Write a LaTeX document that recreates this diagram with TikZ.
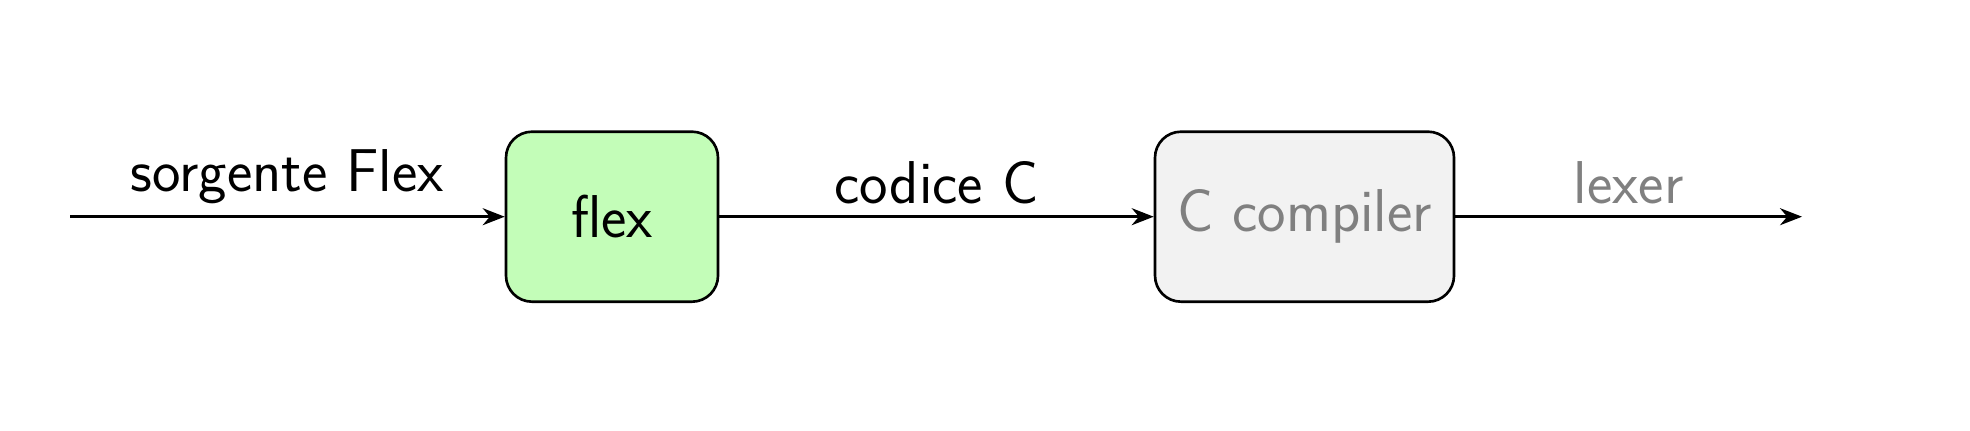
\documentclass[tikz,border=0pt]{standalone}
\usetikzlibrary{arrows.meta}
\definecolor{flexgreen}{HTML}{C3FDB8}
\definecolor{boxgray}{HTML}{F2F2F2}
\definecolor{txtgray}{HTML}{808080}
\begin{document}
\begin{tikzpicture}[
  font=\sffamily\fontsize{17.2}{20.6}\selectfont,
  stagebox/.style={draw=black, line width=0.75pt, rounded corners=0.26cm, minimum height=1.70cm, inner sep=0pt},
  flow/.style={line width=0.75pt, -{Stealth[length=0.22cm, width=0.17cm]}},
  lbl/.style={midway, above}
]
\useasboundingbox (0,0) rectangle (19.70,4.30);
\coordinate (in) at (0.70,2.133);
\node[stagebox, fill=flexgreen, minimum width=2.12cm] (flex) at (6.12,2.133) {flex};
\node[stagebox, fill=boxgray, minimum width=2.99cm, text=txtgray] (cc) at (13.045,2.133) {C compiler};
\coordinate (out) at (18.02,2.133);
\draw[flow] (in) -- (flex.west) node[lbl] {sorgente Flex};
\draw[flow] (flex.east) -- (cc.west) node[lbl] {codice C};
\draw[flow] (cc.east) -- (out) node[lbl, text=txtgray] {lexer};
\end{tikzpicture}
\end{document}
